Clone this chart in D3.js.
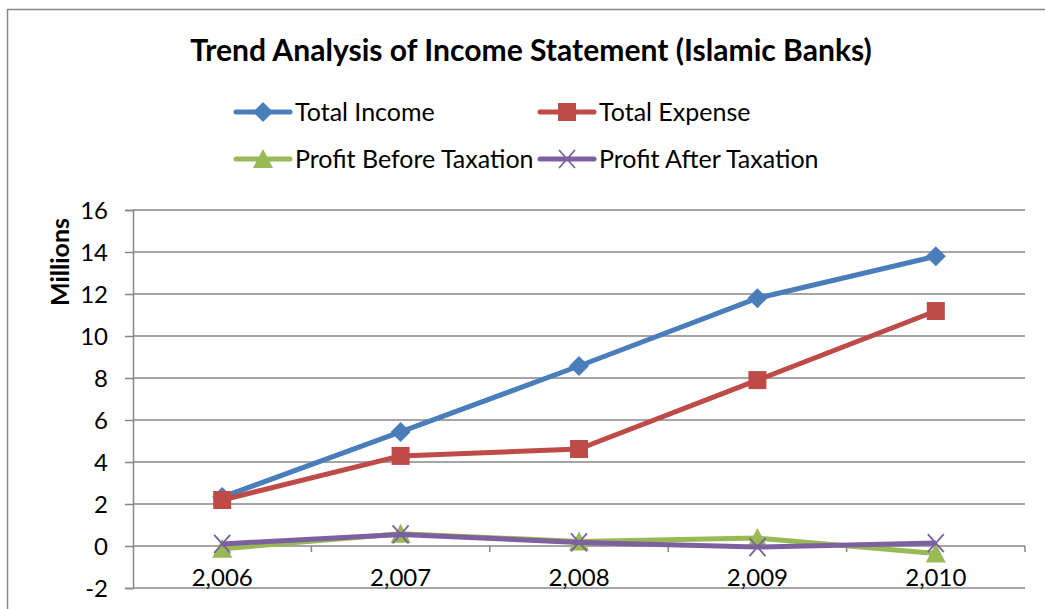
<!DOCTYPE html>
<html><head><meta charset="utf-8">
<script src="https://cdn.jsdelivr.net/npm/d3@7/dist/d3.min.js"></script>
<style>body{margin:0;background:#fff}svg{display:block}text{font-family:Lato,"Open Sans",sans-serif;fill:#000}</style>
</head><body><svg id="c" width="1045" height="609"></svg>
<script>
const years = [2006, 2007, 2008, 2009, 2010];
const totalIncome = [2.33, 5.43, 8.57, 11.8, 13.8];
const totalExpense = [2.19, 4.29, 4.62, 7.9, 11.19];
const profitBeforeTax = [-0.13, 0.58, 0.22, 0.38, -0.36];
const profitAfterTax = [0.1, 0.55, 0.17, -0.05, 0.14];
const yTicks = [-2, 0, 2, 4, 6, 8, 10, 12, 14, 16];
const seriesNames = ["Total Income", "Total Expense", "Profit Before Taxation", "Profit After Taxation"];

const series = [
  {name: seriesNames[0], values: totalIncome, color: "#4A7EBB", marker: "diamond"},
  {name: seriesNames[1], values: totalExpense, color: "#BE4B48", marker: "square"},
  {name: seriesNames[2], values: profitBeforeTax, color: "#98B954", marker: "triangle"},
  {name: seriesNames[3], values: profitAfterTax, color: "#7D60A0", marker: "x"}
];

const svg = d3.select("#c");
svg.append("path").attr("d", "M7.5,609 V9.5 H1045").attr("fill", "none").attr("stroke", "#888").attr("stroke-width", 1.5);

const L = 133, R = 1025, T = 210, B = 588;
const x = d3.scaleBand().domain(years).range([L, R]);
const y = d3.scaleLinear().domain([-2, 16]).range([B, T]);
const grey = "#878787";

svg.append("g").selectAll("line").data(yTicks).join("line")
  .attr("x1", L).attr("x2", R).attr("y1", d => y(d)).attr("y2", d => y(d))
  .attr("stroke", grey).attr("stroke-width", 1.5);

const yAxis = svg.append("g").attr("transform", `translate(${L},0)`)
  .call(d3.axisLeft(y).tickValues(yTicks).tickSize(8).tickPadding(17).tickFormat(d => String(d)));
yAxis.select(".domain").attr("stroke", grey).attr("stroke-width", 1.5);
yAxis.selectAll(".tick line").attr("stroke", grey).attr("stroke-width", 1.5);
yAxis.selectAll("text").style("font-size", "24px").attr("fill", "#000").attr("dy", "0.36em");

const xAxis = svg.append("g").attr("transform", `translate(0,${y(0)})`)
  .call(d3.axisBottom(x).tickSize(0).tickPadding(23).tickFormat(d3.format(",")));
xAxis.select(".domain").remove();
xAxis.selectAll("text").style("font-size", "24px").attr("fill", "#000");
const bounds = years.map(d => x(d) + x.bandwidth());
svg.append("g").selectAll("line").data(bounds).join("line")
  .attr("x1", d => d).attr("x2", d => d).attr("y1", y(0)).attr("y2", y(0) + 6)
  .attr("stroke", grey).attr("stroke-width", 1.5);

const line = d3.line().x((d, i) => x(years[i]) + x.bandwidth() / 2).y(d => y(d));
function marker(g, type, color, cx, cy) {
  if (type === "diamond") {
    g.append("path").attr("d", `M${cx},${cy - 10} L${cx + 10},${cy} L${cx},${cy + 10} L${cx - 10},${cy} Z`).attr("fill", color);
  } else if (type === "square") {
    g.append("rect").attr("x", cx - 9).attr("y", cy - 9).attr("width", 18).attr("height", 18).attr("fill", color);
  } else if (type === "triangle") {
    g.append("path").attr("d", `M${cx},${cy - 10} L${cx + 10},${cy + 9} L${cx - 10},${cy + 9} Z`).attr("fill", color);
  } else {
    g.append("path").attr("d", `M${cx - 8},${cy - 9} L${cx + 8},${cy + 9} M${cx + 8},${cy - 9} L${cx - 8},${cy + 9}`)
      .attr("stroke", color).attr("stroke-width", 1.8).attr("fill", "none");
  }
}
series.forEach(s => {
  const g = svg.append("g");
  g.append("path").attr("d", line(s.values)).attr("fill", "none").attr("stroke", s.color)
    .attr("stroke-width", 5).attr("stroke-linejoin", "round");
  s.values.forEach((v, i) => marker(g, s.marker, s.color, x(years[i]) + x.bandwidth() / 2, y(v)));
});

const title = svg.append("text").attr("x", 531).attr("y", 61).attr("text-anchor", "middle")
  .style("font-weight", "bold").style("font-size", "25px").text("Trend Analysis of Income Statement (Islamic Banks)");
const tw = title.node().getComputedTextLength();
title.style("font-size", (25 * 682 / tw) + "px");

svg.append("text").attr("transform", "translate(69,262) rotate(-90)").attr("text-anchor", "middle")
  .style("font-weight", "bold").style("font-size", "25px").text("Millions");

const legPos = [[236, 112], [540, 112], [236, 159], [540, 159]];
series.forEach((s, i) => {
  const [lx, ly] = legPos[i];
  const g = svg.append("g");
  g.append("line").attr("x1", lx).attr("x2", lx + 54).attr("y1", ly).attr("y2", ly)
    .attr("stroke", s.color).attr("stroke-width", 5).attr("stroke-linecap", "round");
  marker(g, s.marker, s.color, lx + 27, ly);
  g.append("text").attr("x", lx + 59).attr("y", ly).attr("dy", "0.36em").style("font-size", "25px").text(s.name);
});
</script></body></html>
